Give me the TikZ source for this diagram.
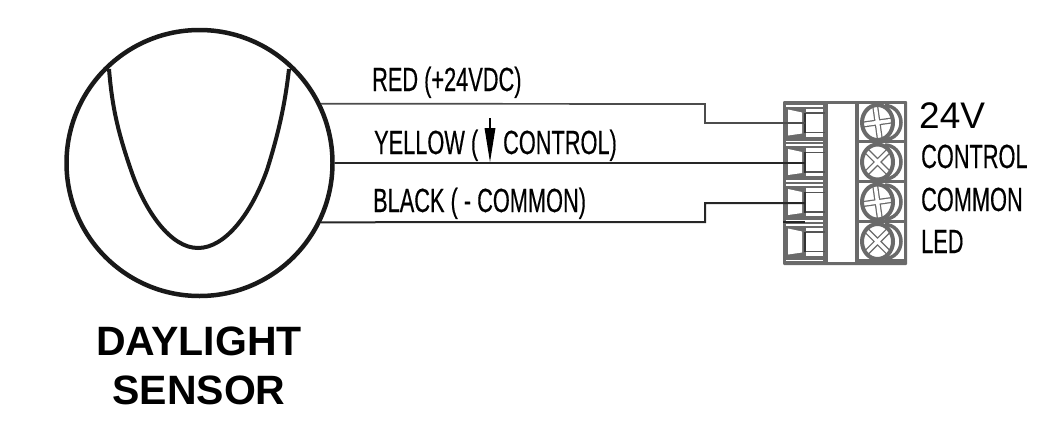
\documentclass[tikz,border=0pt]{standalone}
\usepackage{fontspec}
\setmainfont{Liberation Sans}
\newfontfamily\narrowfont[FakeBold=0.5]{Liberation Sans}
\definecolor{blockgray}{HTML}{6A6A6A}
\tikzset{
  wirelabel/.style={anchor=base west,inner sep=0pt,xscale=0.65,font=\fontsize{33.5}{33.5}\narrowfont\selectfont},
  sensorlabel/.style={inner sep=0pt,font=\fontsize{41}{41}\selectfont\bfseries},
  wire/.style={line width=2pt,black!85},
  blockline/.style={draw=blockgray!80!black,line width=1.5pt}
}
\begin{document}
\begin{tikzpicture}[x=1pt,y=-1pt]
    \useasboundingbox (0,0) rectangle (1038,439);
    % sensor
    \node[circle,draw=black!90,line width=4.5pt,minimum size=266pt,inner sep=0pt] (sensor) at (199.5,163) {};
    \draw[black!90,line width=4pt] (109,69) .. controls (112,105) and (117,130) .. (132,173) .. controls (145,210) and (170,248) .. (198,248) .. controls (226,248) and (252,212) .. (267,170) .. controls (278,135) and (285,105) .. (289,69);
    \node[sensorlabel] (daylight) at (199,341) {DAYLIGHT};
    \node[sensorlabel] (sensortext) at (199,390) {SENSOR};
    % terminal block
    \fill[blockgray,rounded corners=1pt] (783,101) rectangle (907,265);
    \fill[white] (828,104) rectangle (855,262);
    \fill[white] (859,104) rectangle (904,262);
    \foreach \rowy/\crossangle in {122.5/8,162/45,202/8,241.5/45} {
        % wire entry
        \fill[white] (786,\rowy-18) rectangle (823,\rowy-16);
        \fill[white] (786,\rowy+18) rectangle (823,\rowy+19.5);
        \fill[white] (788,\rowy-13) -- (802,\rowy-10) -- (802,\rowy+11) -- (788,\rowy+13) -- cycle;
        \fill[white] (806,\rowy-14) rectangle (823,\rowy+14);
        \draw[blockline] (806,\rowy-9.5) -- (825,\rowy-9.5) (806,\rowy+10) -- (825,\rowy+10);
        \draw[black!80,line width=1.5pt] (805,\rowy-10) -- (805,\rowy+10.5);
        % screw
        \fill[blockgray] (859,\rowy+17.5) rectangle (904,\rowy+20.5);
        \draw[blockgray,line width=3.5pt] (885,\rowy-17) arc[start angle=90,end angle=-90,x radius=16pt,y radius=17pt];
        \begin{scope}
            \clip (877.5,\rowy) ellipse (16pt and 18pt);
            \fill[white] (877.5,\rowy) ellipse (16pt and 18pt);
            \begin{scope}[shift={(877.5,\rowy)},rotate=\crossangle]
                \draw[blockgray,line width=6pt] (-20,0) -- (20,0) (0,-20) -- (0,20);
                \draw[white,line width=3.5pt] (-20,0) -- (20,0) (0,-20) -- (0,20);
            \end{scope}
        \end{scope}
        \draw[blockgray,line width=4pt] (877.5,\rowy) ellipse (15.5pt and 17.5pt);
    }
    % wires
    \coordinate (redend) at (805,123);
    \coordinate (yellowend) at (805,163);
    \coordinate (blackend) at (805,203);
    \draw[wire,black!70,line width=1.7pt] (sensor.26.8) -- (705,104) -- (705,123) -- (redend);
    \draw[wire] (sensor.east) -- (yellowend);
    \draw[wire] (sensor.-26.8) -- (705,222) -- (705,203) -- (blackend);
    \coordinate (stubleft) at (783,222);
    \coordinate (stubright) at (805,222);
    \draw[wire] (stubleft) -- (stubright);
    % wire labels
    \node[wirelabel] (redlabel) at (372,91) {RED (+24VDC)};
    \node[wirelabel] (yellowlabel) at (374,154) {YELLOW (};
    \node[wirelabel] (controlpart) at (503,154) {CONTROL)};
    \node[wirelabel] (blacklabel) at (373,212) {BLACK ( - COMMON)};
    \draw[line width=1.5pt] (490,118) -- (490,130);
    \fill (484.5,128) -- (495.5,128) -- (490,162) -- cycle;
    % terminal labels
    \node[wirelabel,xscale=1/0.65,font=\fontsize{37}{37}\selectfont] (v24) at (919,128) {24V};
    \node[wirelabel] (control) at (921,168) {CONTROL};
    \node[wirelabel] (common) at (921,211) {COMMON};
    \node[wirelabel] (led) at (921,253) {LED};
\end{tikzpicture}
\end{document}
